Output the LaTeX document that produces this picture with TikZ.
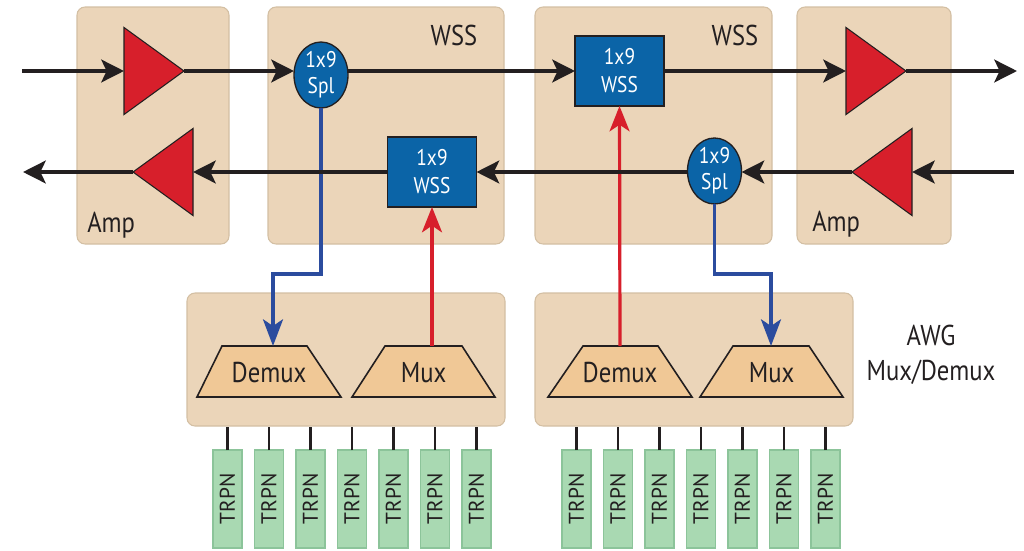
\documentclass[tikz,border=0pt]{standalone}
\usepackage{fontspec}
\setmainfont{PT Sans}[FakeStretch=0.86]
\newfontfamily\widefont{PT Sans}
\usepackage{graphicx}
\usetikzlibrary{shapes.geometric,arrows.meta,fit}
\definecolor{panelfill}{HTML}{EBD5B9}
\definecolor{panelborder}{HTML}{D3BFA3}
\definecolor{ampred}{HTML}{D71F2B}
\definecolor{bluebox}{HTML}{0B64A7}
\definecolor{blueline}{HTML}{2B4C9E}
\definecolor{trapfill}{HTML}{F0C896}
\definecolor{trpnfill}{HTML}{A9D9B2}
\definecolor{trpnborder}{HTML}{8CC49A}
\definecolor{inkc}{HTML}{231F20}
\begin{document}
\begin{tikzpicture}[x=0.75pt,y=-0.75pt,
  panel/.style={draw=panelborder, fill=panelfill, rounded corners=6pt, line width=0.8pt, inner sep=0pt},
  amptri/.style={isosceles triangle, isosceles triangle stretches, minimum width=65.25pt, minimum height=45pt, inner sep=0pt, outer sep=0pt, fill=ampred, draw=inkc, line width=0.8pt},
  splnode/.style={ellipse, fill=bluebox, draw=inkc, line width=1pt, minimum width=40.5pt, minimum height=45pt, inner sep=0pt, outer sep=0pt, text=white, font=\fontsize{17}{19.5}\selectfont, align=center},
  wssbox/.style={rectangle, fill=bluebox, draw=inkc, line width=1pt, minimum width=66.75pt, minimum height=52.5pt, inner sep=0pt, outer sep=0pt, text=white, font=\fontsize{17}{21}\selectfont, align=center},
  sig/.style={line width=3pt, draw=inkc, -{Stealth[length=17pt,width=17pt,inset=4pt]}},
  bluesig/.style={line width=2.6pt, draw=blueline, -{Stealth[length=20pt,width=15pt,inset=5pt]}},
  redsig/.style={line width=2.4pt, draw=ampred, -{Stealth[length=19pt,width=15pt,inset=5pt]}},
  trapshape/.style={fill=trapfill, draw=inkc, line width=1.2pt},
  traptext/.style={inner sep=0pt, text=inkc, font=\fontsize{21.5}{22}\selectfont},
  trpn/.style={rectangle, fill=trpnfill, draw=trpnborder, line width=0.8pt, minimum width=21.75pt, minimum height=73.5pt, inner sep=0pt, outer sep=0pt, text=inkc, font=\widefont\fontsize{16}{16}\selectfont},
  stub/.style={line width=2.2pt, draw=inkc},
  lbl/.style={font=\fontsize{21.5}{24}\selectfont, text=inkc, inner sep=0pt}]
\path[use as bounding box] (0,0) rectangle (1024,550);

% panels
\node[panel, fit={(77,7) (229,244)}] (amp1) {};
\node[panel, fit={(268,7) (504,244)}] (wssp1) {};
\node[panel, fit={(535,7) (772,244)}] (wssp2) {};
\node[panel, fit={(797,7) (951,244)}] (amp2) {};
\node[panel, fit={(187,293) (505,426)}] (awg1) {};
\node[panel, fit={(535,293) (853,426)}] (awg2) {};

% labels
\node[lbl, anchor=base west] (lamp1) at (87,232) {Amp};
\node[lbl, anchor=base west] (lamp2) at (812,231) {Amp};
\node[lbl, anchor=base] (lwss1) at (454,45) {WSS};
\node[lbl, anchor=base] (lwss2) at (735,45) {WSS};
\node[lbl, anchor=base] (lawg) at (931,345) {AWG};
\node[lbl, anchor=base] (lmd) at (931,380) {Mux/Demux};

% amplifiers
\node[amptri, anchor=apex] (tri1) at (184,71) {};
\node[amptri, anchor=apex] (tri2) at (906,71) {};
\node[amptri, shape border rotate=180, anchor=apex] (tri3) at (852,172) {};
\node[amptri, shape border rotate=180, anchor=apex] (tri4) at (133,172) {};

% splitters and WSS
\node[splnode] (spl1) at (321,75) {1x9\\Spl};
\node[splnode] (spl2) at (714.5,171) {1x9\\Spl};
\node[wssbox] (wss1) at (619.5,71) {1x9\\WSS};
\node[wssbox] (wss2) at (432,172) {1x9\\WSS};

% mux / demux trapezoids
\path[trapshape] (197,397) -- (222,346) -- (307,346) -- (341,397) -- cycle;
\path[trapshape] (352,397) -- (385,346) -- (462,346) -- (495,397) -- cycle;
\path[trapshape] (548,397) -- (583,346) -- (658,346) -- (692,397) -- cycle;
\path[trapshape] (700,397) -- (733,346) -- (809,346) -- (843,397) -- cycle;
\node[traptext] (dmx1) at (269,373) {Demux};
\node[traptext] (mux1) at (423.5,373) {Mux};
\node[traptext] (dmx2) at (620,373) {Demux};
\node[traptext] (mux2) at (771.5,373) {Mux};
\coordinate (dmx1top) at (273,346);
\coordinate (mux1top) at (432,346);
\coordinate (dmx2top) at (620,346);
\coordinate (mux2top) at (771,346);

% drop / add connectors
\draw[bluesig] (spl1.south) -- (spl1.south |- 0,274) -| (dmx1top);
\draw[bluesig] (spl2.south) -- (spl2.south |- 0,274) -| (mux2top);
\draw[redsig] (mux1top) -- (wss2.south);
\draw[redsig] (dmx2top) -- (wss1.south);

% line endpoints
\coordinate (in1) at (22,71);
\coordinate (out1) at (1017,71);
\coordinate (in2) at (1014,172);
\coordinate (out2) at (23,172);

% east-bound line
\draw[sig] (in1) -- (tri1.lower side);
\draw[sig] (tri1.apex) -- (tri1.apex -| spl1.west);
\draw[sig] (spl1.east |- wss1.west) -- (wss1.west);
\draw[sig] (wss1.east) -- (tri2.lower side);
\draw[sig] (tri2.apex) -- (out1);

% west-bound line
\draw[sig] (in2) -- (tri3.lower side);
\draw[sig] (tri3.apex) -- (tri3.apex -| spl2.east);
\draw[sig] (spl2.west |- wss2.east) -- (wss2.east);
\draw[sig] (wss2.west) -- (tri4.lower side);
\draw[sig] (tri4.apex) -- (out2);

% transponders
\foreach \i in {0,...,6} {
  \node[trpn] (ta\i) at ({227.5+41.5*\i},499) {\rotatebox{90}{TRPN}};
  \draw[stub] (ta\i.north) -- (ta\i.north |- awg1.south);
  \node[trpn] (tb\i) at ({576.5+41.5*\i},499) {\rotatebox{90}{TRPN}};
  \draw[stub] (tb\i.north) -- (tb\i.north |- awg2.south);
}
\end{tikzpicture}
\end{document}
